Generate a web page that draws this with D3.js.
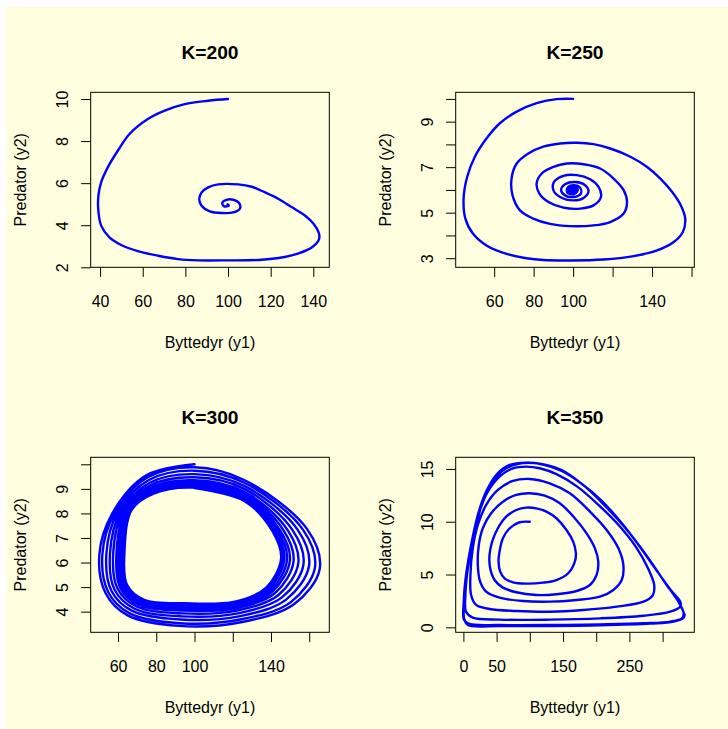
<!DOCTYPE html>
<html>
<head>
<meta charset="utf-8">
<script src="https://cdn.jsdelivr.net/npm/d3@7"></script>
<style>
  body { margin: 0; background: #ffffff; }
  svg text { font-family: "Liberation Sans", Arial, sans-serif; fill: #000; }
</style>
</head>
<body>
<svg id="chart" width="728" height="729"></svg>
<script>
// trajectories: [prey y1, predator y2]
const k200 = [
  [100,10],[90.7,9.92],[79.7,9.76],[70.3,9.45],[62.4,9.05],[53.8,8.34],[48.3,7.54],[43.6,6.75],
  [40.5,6.04],[39.2,5.4],[39.2,4.69],[40.5,3.98],[44.4,3.42],[49.9,3.06],[57.7,2.77],[67.2,2.55],
  [76.6,2.39],[86,2.33],[100.1,2.33],[114.3,2.35],[123.7,2.44],[133.1,2.66],[139.4,2.95],[142.7,3.34],
  [142.5,3.66],[140.2,4.06],[136.2,4.45],[130,4.85],[123.7,5.25],[117.4,5.56],[111.1,5.83],[104.8,5.94],
  [95.4,5.94],[90.7,5.8],[87.6,5.56],[86.5,5.25],[87.6,4.93],[91.5,4.66],[97,4.58],[102.5,4.61],
  [105.6,4.8],[105.2,5.06],[102.5,5.21],[99.3,5.21],[97.3,5.06],[98.2,4.9],[100.4,4.93],[99.8,5.0]
];
const k250 = [
  [100,10],[91.7,9.99],[81.5,9.81],[71.4,9.44],[62.9,8.93],[56.1,8.26],[50.2,7.46],[46.3,6.57],
  [44.5,5.62],[45.4,4.74],[49.3,4.07],[56.1,3.56],[66.3,3.19],[76.4,3.0],[84.9,2.92],[98.5,2.9],
  [115.4,2.94],[130.7,3.09],[142.5,3.34],[151,3.71],[155.6,4.15],[156.8,4.74],[154.6,5.32],[150.2,5.91],
  [144.2,6.5],[137.5,7.01],[129,7.46],[118.8,7.82],[110.3,8.01],[101.9,8.07],[93.4,8.04],[84.9,7.9],
  [77.3,7.6],[71.4,7.16],[68.8,6.5],[69.3,5.76],[73.1,5.1],[79.8,4.74],[88.3,4.51],[98.5,4.41],
  [110.3,4.44],[118.8,4.59],[125.6,4.96],[127.3,5.47],[125.6,5.99],[120.5,6.5],[113.7,6.94],[105.3,7.13],
  [96.8,7.16],[90,7.01],[84.1,6.72],[81.5,6.28],[82.9,5.84],[87.5,5.47],[95.1,5.22],[103.6,5.18],
  [110.3,5.32],[114.1,5.69],[112.9,6.13],[108.6,6.47],[101.9,6.65],[95.1,6.62],[90.3,6.35],[90,5.99],
  [93.4,5.69],[100.2,5.54],[105.3,5.65],[107.8,5.94],[105.6,6.24],[101,6.35],[95.9,6.25],[93.9,5.99],
  [95.9,5.76],[100.2,5.69],[103.9,5.84],[103.6,6.09],[100.2,6.21],[97.1,6.09],[97.1,5.88],[100.2,5.81],
  [102.2,5.96],[101,6.1],[98.8,6.03],[99.2,5.92],[101.2,5.95],[100.4,6.04],[99.4,5.99],[100,5.97],
  [101.6,5.92],[102.4,6.0],[101.5,6.12],[99.2,6.13],[97.6,6.02],[98.3,5.9],[100.6,5.88],[101.8,5.98],
  [100.8,6.07],[99.0,6.06],[98.6,5.97],[100.2,5.93],[101.2,6.0],[100.1,6.03],[99.5,5.99]
];
const k300 = [
  [100,10.0],[75,9.56],[57,8.0],[50.2,6.3],[53.5,4.75],[65,3.85],[92,3.42],[125,3.58],[152,4.3],[165.5,5.75],[159,7.35],[126,9.36],
  [100,9.88],[75.5,9.47],[58.3,8.02],[51.8,6.32],[54.9,4.79],[66.1,3.93],[92.4,3.53],[124.5,3.69],[150.2,4.38],[163,5.8],[156.7,7.34],[126,9.25],
  [100,9.74],[76.1,9.36],[59.8,8.04],[53.9,6.35],[56.6,4.84],[67.4,4.03],[92.8,3.68],[123.9,3.82],[147.9,4.49],[159.9,5.87],[153.9,7.34],[126,9.12],
  [100,9.6],[76.6,9.25],[61.3,8.06],[55.8,6.38],[58.2,4.89],[68.7,4.12],[93.2,3.81],[123.4,3.94],[145.9,4.59],[157,5.93],[151.2,7.33],[126,9.0],
  [100,9.47],[77.2,9.15],[62.7,8.08],[57.5,6.41],[59.7,4.94],[69.9,4.2],[93.6,3.93],[122.8,4.05],[143.9,4.68],[154.3,5.99],[148.7,7.32],[126,8.88],
  [100,9.35],[77.6,9.06],[63.9,8.1],[59.2,6.43],[61.1,4.98],[70.9,4.28],[94,4.05],[122.4,4.15],[142.1,4.76],[151.8,6.05],[146.5,7.32],[126,8.78],
  [100,9.27],[78,8.99],[64.9,8.11],[60.4,6.45],[62.1,5.01],[71.8,4.34],[94.3,4.13],[122,4.22],[140.8,4.83],[149.9,6.09],[144.8,7.31],[126,8.7],
  [100,9.2],[78.3,8.94],[65.6,8.12],[61.4,6.46],[62.9,5.04],[72.4,4.38],[94.5,4.2],[121.7,4.28],[139.7,4.87],[148.4,6.12],[143.4,7.31],[126,8.64],
  [100,9.13],[78.6,8.88],[66.3,8.13],[62.3,6.48],[63.7,5.06],[73,4.43],[94.7,4.27],[121.4,4.34],[138.7,4.92],[147,6.15],[142.1,7.31],[126,8.58],
  [100,9.08],[78.8,8.85],[66.9,8.14],[63,6.49],[64.3,5.08],[73.5,4.46],[94.8,4.31],[121.2,4.38],[137.9,4.96],[145.9,6.17],[141.1,7.3],[126,8.53],
  [100,9.05],[78.9,8.82],[67.2,8.15],[63.4,6.49],[64.7,5.09],[73.7,4.48],[94.9,4.34],[121.1,4.41],[137.5,4.98],[145.3,6.18],[140.6,7.3],[126,8.51],
  [100,9.03]
];
const k350 = [
  [100,10],[84.7,9.95],[69.6,9.38],[59.5,8.43],[54.4,7.17],[52.9,6.22],[55.4,5.27],[62,4.64],
  [74.6,4.26],[94.8,4.14],[120,4.23],[140,4.48],[157.8,5.12],[167.8,6.22],[169.4,7.01],[165.3,8.11],
  [155.2,9.22],[140.1,10.33],[125,10.96],[109.9,11.27],[94.8,11.34],[79.6,11.11],[64.5,10.48],[51.9,9.38],
  [43.3,8.11],[39.3,6.85],[40.3,5.59],[46.9,4.48],[59.5,3.76],[79.6,3.32],[109.9,3.06],[140.1,3.13],
  [170.4,3.44],[190.5,4.01],[200.6,4.96],[203.1,6.22],[198.1,7.48],[185.5,8.9],[167.8,10.33],[145.2,11.75],
  [122.5,12.47],[99.8,12.69],[79.6,12.54],[59.5,11.9],[41.8,10.8],[29.2,9.38],[23.2,7.8],[21.7,5.9],
  [25.2,4.33],[34.3,3.38],[54.4,2.81],[89.7,2.49],[130,2.43],[170.4,2.59],[205.6,2.9],[225.8,3.54],
  [238.4,4.48],[240.9,5.9],[233.4,7.48],[215.7,9.22],[190.5,10.96],[160.3,12.69],[130,13.64],[99.8,14.05],
  [74.6,13.86],[51.9,13.01],[34.3,11.59],[21.7,9.69],[14.1,7.48],[10.6,4.96],[11.6,3.06],[19.2,2.12],
  [39.3,1.74],[79.6,1.55],[130,1.48],[180.4,1.64],[230.8,1.96],[271.2,2.43],[285.3,3.06],[287.3,4.01],
  [278,5.6],[260,7.6],[235,9.6],[205,11.5],[172,13.3],[140.1,14.5],[114.9,15.06],[94.8,15.22],
  [74.6,15.06],[54.4,14.27],[36.8,12.85],[24.2,10.96],[14.1,8.43],[6.6,5.59],[3,3.06],[4,1.48],
  [14.1,0.92],[54.4,0.73],[130,0.73],[205.6,0.85],[271.2,1.1],[311.5,1.48],[326.6,1.96],[326.6,2.43],
  [314,3.4],[293,5.2],[266,7.6],[238,9.9],[208,12.0],[178,13.6],[148,14.8],[120,15.4],
  [94.8,15.6],[69.6,15.38],[49.4,14.43],[34.3,12.85],[21.7,10.64],[11.6,7.8],[4,4.96],[0.5,2.43],
  [1,0.69],[9.1,0.32],[54.4,0.22],[130,0.22],[205.6,0.28],[271.2,0.38],[311.5,0.54],[329.1,0.85],
  [331.7,1.33],[325,2.3],[304,4.2],[278,6.6],[248,9.1],[215,11.4],[182,13.4],[148,14.9],
  [114.9,15.5],[89.7,15.55],[64.5,15.06],[44.4,13.8],[29.2,11.9],[18.1,9.38],[9.1,6.54],[2.5,3.38],
  [1,0.85],[6.6,0.22],[54.4,0.13],[130,0.13],[205.6,0.19],[281.3,0.35],[316.5,0.54],[331.7,0.92],[333.2,1.23]
];

const series = [k200, k250, k300, k350];
const titles = ["K=200", "K=250", "K=300", "K=350"];
const xLims = [[35.6, 147.5], [40.5, 161.4], [45.7, 170.5], [-11.6, 347.7]];
const yLims = [[2.0, 10.32], [2.6, 10.29], [3.16, 10.285], [-0.47, 16.1]];
const xTicks = [[40,60,80,100,120,140], [60,80,100,120,140,160], [60,80,100,120,140,160], [0,50,100,150,200,250,300]];
const xLabels = [[40,60,80,100,120,140], [60,80,100,140], [60,80,100,140], [0,50,150,250]];
const yTicks = [[2,4,6,8,10], [3,4,5,6,7,8,9,10], [4,5,6,7,8,9,10], [0,5,10,15]];
const yLabels = [[2,4,6,8,10], [3,5,7,9], [4,5,6,7,8,9], [0,5,10,15]];

let svg = d3.select("#chart");

// device background (R window area)
svg.append("rect")
  .attr("x", 6).attr("y", 7)
  .attr("width", 722).attr("height", 722)
  .attr("fill", "#ffffe0");

let boxW = 238.6, boxH = 175;
let lefts = [90.7, 455.7], tops = [92.3, 457.3];

series.forEach(function(data, i){
  let left = lefts[i % 2], top = tops[Math.floor(i / 2)];

  let x = d3.scaleLinear().domain(xLims[i]).range([left, left + boxW]);
  let y = d3.scaleLinear().domain(yLims[i]).range([top + boxH, top]);

  // trajectory
  let line = d3.line()
    .x(function(d){ return x(d[0]); })
    .y(function(d){ return y(d[1]); })
    .curve(d3.curveCatmullRom.alpha(0.5));

  svg.append("path")
    .datum(data)
    .attr("d", line)
    .attr("fill", "none")
    .attr("stroke", "#0000ff")
    .attr("stroke-width", 2.4)
    .attr("stroke-linejoin", "round")
    .attr("stroke-linecap", "round");

  // x axis
  let gx = svg.append("g")
    .attr("transform", translate(0, top + boxH))
    .call(d3.axisBottom(x).tickValues(xTicks[i]).tickSize(9.6)
      .tickFormat(function(d){ return xLabels[i].indexOf(d) >= 0 ? d : ""; }));
  gx.select(".domain").remove();
  gx.selectAll("line").attr("stroke", "#000");
  gx.selectAll("text")
    .attr("y", 40.2).attr("dy", 0)
    .style("font-size", "16px");

  // y axis, labels turned like R does
  let gy = svg.append("g")
    .attr("transform", translate(left, 0))
    .call(d3.axisLeft(y).tickValues(yTicks[i]).tickSize(9.6)
      .tickFormat(function(d){ return yLabels[i].indexOf(d) >= 0 ? d : ""; }));
  gy.select(".domain").remove();
  gy.selectAll("line").attr("stroke", "#000");
  gy.selectAll("text")
    .attr("x", 0).attr("y", -22.4).attr("dy", 0)
    .attr("transform", "rotate(-90)")
    .style("text-anchor", "middle")
    .style("font-size", "16px");

  // box
  svg.append("rect")
    .attr("x", left).attr("y", top)
    .attr("width", boxW).attr("height", boxH)
    .attr("fill", "none")
    .attr("stroke", "#000")
    .attr("stroke-width", 1);

  // titles
  svg.append("text")
    .attr("x", left + boxW / 2).attr("y", top - 33)
    .attr("text-anchor", "middle")
    .style("font-size", "19.2px")
    .style("font-weight", "bold")
    .text(titles[i]);

  svg.append("text")
    .attr("x", left + boxW / 2).attr("y", top + boxH + 80.2)
    .attr("text-anchor", "middle")
    .style("font-size", "16px")
    .text("Byttedyr (y1)");

  svg.append("text")
    .attr("transform", translate(left - 65, top + boxH / 2) + " rotate(-90)")
    .attr("text-anchor", "middle")
    .style("font-size", "16px")
    .text("Predator (y2)");
});

function translate(x, y){
  return "translate(" + x + "," + y + ")";
}
</script>
</body>
</html>
